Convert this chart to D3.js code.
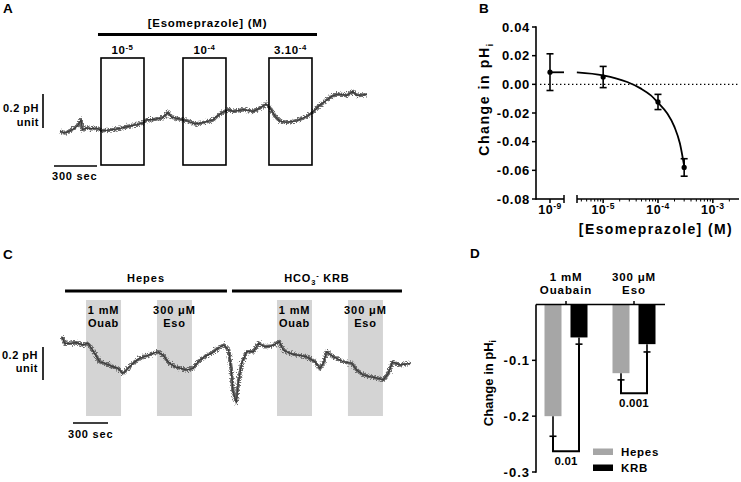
<!DOCTYPE html>
<html><head><meta charset="utf-8">
<script src="https://cdn.jsdelivr.net/npm/d3@7"></script>
<style>
body{margin:0;background:#fff}
text{font-family:"Liberation Sans",Arial,sans-serif;font-weight:bold;fill:#000}
</style>
</head><body><svg id="c" width="741" height="482"></svg>
<script>
// ---------------- DATA ----------------
// Panel A trace: time (s) and pH change
const traceA_t  = [7,42,77,112,135,154,163,193,228,263,298,344,391,437,484,542,588,612,647,693,728,759,787,833,868,902,949,996,1042,1077,1101,1147,1182,1217,1286,1356,1403,1445,1473,1508,1542,1589,1659,1729,1764,1810,1857,1903,1949,2008,2050,2078,2148];
const traceA_pH = [0.022,0.012,0.025,0.041,0.061,0.090,0.031,0.041,0.037,0.041,0.025,0.028,0.034,0.041,0.051,0.061,0.071,0.090,0.090,0.096,0.104,0.135,0.104,0.096,0.090,0.081,0.065,0.071,0.081,0.090,0.110,0.135,0.149,0.139,0.149,0.139,0.159,0.182,0.159,0.110,0.081,0.075,0.084,0.110,0.129,0.169,0.198,0.228,0.241,0.233,0.257,0.233,0.237];
const esoStarts = [293, 865, 1465];          // s, each 300 s application
const esoDose = [["10","-5"],["10","-4"],["3.10","-4"]];
const esoBarRange = [272, 1800];

// Panel B: dose response
const concB = [1e-9, 1e-5, 1e-4, 3e-4];
const meanB = [0.0085, 0.0051, -0.0123, -0.0580];
const semB  = [0.0128, 0.0074, 0.0053, 0.0061];
const fitLogX = [-5.48,-5.0,-4.56,-4.31,-4.13,-4.0,-3.83,-3.7,-3.6,-3.52];
const fitY    = [0.0084,0.0063,0.0016,-0.0030,-0.0077,-0.0128,-0.0204,-0.0297,-0.0413,-0.0576];
const yTicksB = [0.04,0.02,0,-0.02,-0.04,-0.06,-0.08];
const xMajorB = [1e-5,1e-4,1e-3];
const xMajorLab = ["-5","-4","-3"];

// Panel C trace
const traceC_t  = [0,23,66,123,180,223,251,280,323,366,423,480,523,566,609,666,723,780,823,866,909,966,1023,1065,1123,1166,1223,1280,1337,1386,1429,1451,1466,1494,1511,1540,1583,1640,1683,1740,1797,1863,1897,1954,2012,2097,2169,2211,2240,2269,2325,2411,2483,2526,2583,2640,2711,2754,2797,2834,2897,2983];
const traceC_pH = [0.414,0.374,0.374,0.378,0.364,0.374,0.344,0.313,0.262,0.253,0.236,0.222,0.192,0.222,0.253,0.283,0.297,0.313,0.323,0.303,0.262,0.232,0.222,0.212,0.222,0.262,0.293,0.313,0.344,0.364,0.333,0.212,0.081,0.014,0.132,0.253,0.323,0.323,0.374,0.353,0.358,0.384,0.333,0.313,0.303,0.293,0.262,0.222,0.253,0.323,0.293,0.262,0.253,0.212,0.182,0.172,0.162,0.152,0.192,0.262,0.242,0.253];
const drugStartsC = [206, 814, 1843, 2451];
const drugLabC = [["1 mM","Ouab"],["300 \u03bcM","Eso"],["1 mM","Ouab"],["300 \u03bcM","Eso"]];
const bufferRanges = [[26,1414],[1457,2914]];

// Panel D
const groupsD = ["Ouabain","Eso"];
const groupLab = [["1 mM","Ouabain"],["300 \u03bcM","Eso"]];
const seriesD = ["Hepes","KRB"];
const hepesD = [-0.200, -0.123];
const krbD   = [-0.059, -0.071];
const hepesSem = [0.036, 0.012];
const krbSem   = [0.012, 0.014];
const pvals = ["0.01","0.001"];
const bracketY = [-0.263, -0.159];
const yTicksD = [-0.1,-0.2,-0.3];

// ---------------- DRAW ----------------
const svg = d3.select("#c");
const colHepes = "#a6a6a6", colKRB = "#000";

// noise-like rendering filter for recorded traces
const defs = svg.append("defs");
const f = defs.append("filter").attr("id","jit").attr("x","-5%").attr("y","-30%").attr("width","110%").attr("height","160%");
f.append("feTurbulence").attr("type","fractalNoise").attr("baseFrequency","0.8 0.8").attr("numOctaves",1).attr("seed",5).attr("result","n");
f.append("feDisplacementMap").attr("in","SourceGraphic").attr("in2","n").attr("scale",7).attr("xChannelSelector","R").attr("yChannelSelector","G");

function rich(g, x, y, parts, size, anchor, ls) {
  const t = g.append("text").attr("x", x).attr("y", y).attr("font-size", size).attr("text-anchor", anchor || "middle").attr("letter-spacing", ls||0);
  let off = 0;
  parts.forEach(p => {
    const sh = p.sup ? -size*0.38 : p.sub ? size*0.25 : 0;
    t.append("tspan").attr("dy", sh - off).attr("font-size", (p.sup||p.sub) ? size*0.68 : size).text(p.t);
    off = sh;
  });
  return t;
}
function txt(g,x,y,s,size,anchor,ls){ return g.append("text").attr("x",x).attr("y",y).attr("font-size",size).attr("text-anchor",anchor||"start").attr("letter-spacing",ls||0).text(s); }
function letter(x, y, s){ txt(svg,x,y,s,13.5,"start",0.3); }
function ln(g,x1,y1,x2,y2,w){ return g.append("line").attr("x1",x1).attr("y1",y1).attr("x2",x2).attr("y2",y2).attr("stroke","#000").attr("stroke-width",w||1.5); }
function trace(g, d){
  g.append("path").attr("d", d).attr("fill","none").attr("stroke","#6a6a6a").attr("stroke-width",3.6).attr("stroke-linejoin","round").attr("filter","url(#jit)");
  g.append("path").attr("d", d).attr("fill","none").attr("stroke","#3a3a3a").attr("stroke-width",1.2).attr("stroke-linejoin","round");
}

// ===== Panel A =====
letter(3, 13, "A");
const gA = svg.append("g");
const xA = d3.scaleLinear().domain([0, 300]).range([59, 102]);
const yA = d3.scaleLinear().domain([0, 0.2]).range([135, 101]);
const lineA = d3.line().x((d,i)=>xA(traceA_t[i])).y((d,i)=>yA(traceA_pH[i]));
trace(gA, lineA(traceA_t));
esoStarts.forEach((s,i)=>{
  gA.append("rect").attr("x", xA(s)).attr("y", 58).attr("width", xA(s+300)-xA(s)).attr("height", 107)
    .attr("fill","none").attr("stroke","#000").attr("stroke-width",1.6);
  rich(gA, (xA(s)+xA(s+300))/2, 54, [{t:esoDose[i][0]},{t:esoDose[i][1],sup:true}], 11.5, "middle", 0.6);
});
ln(gA, xA(esoBarRange[0]), 34.5, xA(esoBarRange[1]), 34.5, 3);
txt(gA, (xA(esoBarRange[0])+xA(esoBarRange[1]))/2, 27, "[Esomeprazole]  (M)", 11.5, "middle", 0.75);
ln(gA,43,128,43,128-(yA(0)-yA(0.2)),1.6);
txt(gA,39,112,"0.2 pH",11,"end",0.5);
txt(gA,39,126,"unit",11,"end",0.5);
ln(gA,54,166,54+xA(300)-xA(0),166,1.6);
txt(gA,52,180,"300 sec",11,"start",0.8);

// ===== Panel C =====
letter(3, 259, "C");
const gC = svg.append("g");
const xC = d3.scaleLinear().domain([0, 300]).range([62, 97]);
const yC = d3.scaleLinear().domain([0, 0.2]).range([405, 372]);
drugStartsC.forEach((s,i)=>{
  gC.append("rect").attr("x", xC(s)).attr("y",300).attr("width", xC(s+300)-xC(s)).attr("height",116).attr("fill","#d4d4d4");
  const cx = (xC(s)+xC(s+300))/2;
  txt(gC,cx,314,drugLabC[i][0],11,"middle",0.9);
  txt(gC,cx,327,drugLabC[i][1],11,"middle",0.7);
});
const lineC = d3.line().x((d,i)=>xC(traceC_t[i])).y((d,i)=>yC(traceC_pH[i]));
trace(gC, lineC(traceC_t));
bufferRanges.forEach(r=> ln(gC,xC(r[0]),291,xC(r[1]),291,3));
txt(gC,(xC(bufferRanges[0][0])+xC(bufferRanges[0][1]))/2,282,"Hepes",11,"middle",1);
rich(gC, (xC(bufferRanges[1][0])+xC(bufferRanges[1][1]))/2, 282, [{t:"HCO"},{t:"3",sub:true},{t:"-",sup:true},{t:" KRB"}], 11, "middle", 0.8);
ln(gC,43,380,43,380-(yC(0)-yC(0.2)),1.6);
txt(gC,38,359,"0.2 pH",11,"end",0.5);
txt(gC,38,372,"unit",11,"end",0.5);
ln(gC,73,423,73+xC(300)-xC(0),423,1.6);
txt(gC,68,438,"300 sec",11,"start",0.8);

// ===== Panel B =====
letter(479, 13, "B");
const gB = svg.append("g");
const yB = d3.scaleLinear().domain([-0.08, 0.04]).range([199, 27]);
const xB1 = d3.scalePoint().domain([1e-9]).range([550, 550]);
const xB2 = d3.scaleLog().domain([1e-5/3, 3e-3]).range([577, 739]);
const xPos = c => c < 1e-6 ? xB1(c) : xB2(c);
ln(gB,536,yB(0.04)-0.7,536,yB(-0.08)+0.7,1.6);
yTicksB.forEach(v=>{
  ln(gB,532,yB(v),536,yB(v));
  txt(gB,530,yB(v)+4.5,v.toFixed(2),13,"end",0.7);
});
ln(gB,536,199,564,199,1.6);
ln(gB,xB1(1e-9),199,xB1(1e-9),203);
ln(gB,564,195,564,203);
rich(gB, xB1(1e-9), 214, [{t:"10"},{t:"-9",sup:true}], 12.5, "middle", 0.5);
ln(gB,xB2.range()[0],199,xB2.range()[1],199,1.6);
ln(gB,577,195,577,203);
for (let k=-6;k<=-3;k++) for (let m=2;m<=9;m++){ const v=m*Math.pow(10,k); if(v>xB2.domain()[0]&&v<xB2.domain()[1]) ln(gB,xB2(v),199,xB2(v),201.5,1); }
xMajorB.forEach((v,i)=>{ ln(gB,xB2(v),199,xB2(v),203); rich(gB,xB2(v),214,[{t:"10"},{t:xMajorLab[i],sup:true}],12.5,"middle",0.5); });
txt(gB,(xB2.range()[0]+xB2.range()[1])/2-2,234,"[Esomeprazole] (M)",14,"middle",1.4);
const ytB = gB.append("text").attr("transform","translate(489,99) rotate(-90)").attr("text-anchor","middle").attr("font-size",14).attr("letter-spacing",1.6);
ytB.append("tspan").text("Change in pH");
ytB.append("tspan").attr("dy",3.5).attr("font-size",9.5).text("i");
gB.append("line").attr("x1",540).attr("x2",739).attr("y1",yB(0)).attr("y2",yB(0)).attr("stroke","#000").attr("stroke-width",1.4).attr("stroke-dasharray","1.4,2.6");
const fitLine = d3.line().x((d,i)=>xB2(Math.pow(10,fitLogX[i]))).y((d,i)=>yB(fitY[i])).curve(d3.curveMonotoneX);
gB.append("path").attr("d",fitLine(fitLogX)).attr("fill","none").attr("stroke","#000").attr("stroke-width",1.8);
ln(gB,xB1(1e-9),yB(fitY[0]),564,yB(fitY[0]),1.8);
concB.forEach((c,i)=>{
  const x = xPos(c);
  ln(gB,x,yB(meanB[i]+semB[i]),x,yB(meanB[i]-semB[i]),1.6);
  ln(gB,x-3.5,yB(meanB[i]+semB[i]),x+3.5,yB(meanB[i]+semB[i]),1.6);
  ln(gB,x-3.5,yB(meanB[i]-semB[i]),x+3.5,yB(meanB[i]-semB[i]),1.6);
  gB.append("circle").attr("cx",x).attr("cy",yB(meanB[i])).attr("r",2.6).attr("fill","#000");
});

// ===== Panel D =====
letter(470, 258, "D");
const gD = svg.append("g");
const yD = d3.scaleLinear().domain([-0.3, 0]).range([472, 304.5]);
const xD = d3.scalePoint().domain(groupsD).range([566, 634]);
const xS = d3.scaleBand().domain(seriesD).range([-21.5, 21.5]).paddingInner(0.346);
const vals = {Hepes:hepesD, KRB:krbD}, sems = {Hepes:hepesSem, KRB:krbSem}, cols = {Hepes:colHepes, KRB:colKRB};
groupsD.forEach((g,gi)=>{
  seriesD.forEach(s=>{
    const x0 = xD(g)+xS(s), w = xS.bandwidth(), v = vals[s][gi], e = sems[s][gi];
    gD.append("rect").attr("x",x0).attr("y",yD(0)).attr("width",w).attr("height",yD(v)-yD(0)).attr("fill",cols[s]);
    const cx = x0+w/2;
    ln(gD,cx,yD(v),cx,yD(v-e),1.6);
    ln(gD,cx-3.5,yD(v-e),cx+3.5,yD(v-e),1.6);
  });
  const xh = xD(g)+xS("Hepes")+xS.bandwidth()/2, xk = xD(g)+xS("KRB")+xS.bandwidth()/2;
  const yh = yD(hepesD[gi]-hepesSem[gi]), yk = yD(krbD[gi]-krbSem[gi]), yb = yD(bracketY[gi]);
  gD.append("path").attr("d",`M${xh},${yh}V${yb}H${xk}V${yk}`).attr("fill","none").attr("stroke","#000").attr("stroke-width",2);
  txt(gD,(xh+xk)/2,yb+13.5,pvals[gi],11.5,"middle",0.2);
  txt(gD,xD(g),281,groupLab[gi][0],11.5,"middle",0.8);
  txt(gD,xD(g),294,groupLab[gi][1],11.5,"middle",0.9);
  ln(gD,xD(g),yD(0),xD(g),yD(0)-3.5,1.5);
});
ln(gD,536,yD(0),665,yD(0),1.6);
ln(gD,536,yD(0),536,yD(-0.3)+0.7,1.6);
yTicksD.forEach(v=>{
  ln(gD,532,yD(v),536,yD(v));
  txt(gD,530,yD(v)+4.5,v.toFixed(1),13,"end",1);
});
const ytD = gD.append("text").attr("transform","translate(493,383) rotate(-90)").attr("text-anchor","middle").attr("font-size",13);
ytD.append("tspan").text("Change in pH");
ytD.append("tspan").attr("dy",3).attr("font-size",9).text("i");
seriesD.forEach((s,i)=>{
  gD.append("rect").attr("x",593).attr("y",448.5+i*16).attr("width",20).attr("height",6.5).attr("fill",cols[s]);
  txt(gD,621,456+i*16,s,11.5,"start",0.7);
});
</script></body></html>
